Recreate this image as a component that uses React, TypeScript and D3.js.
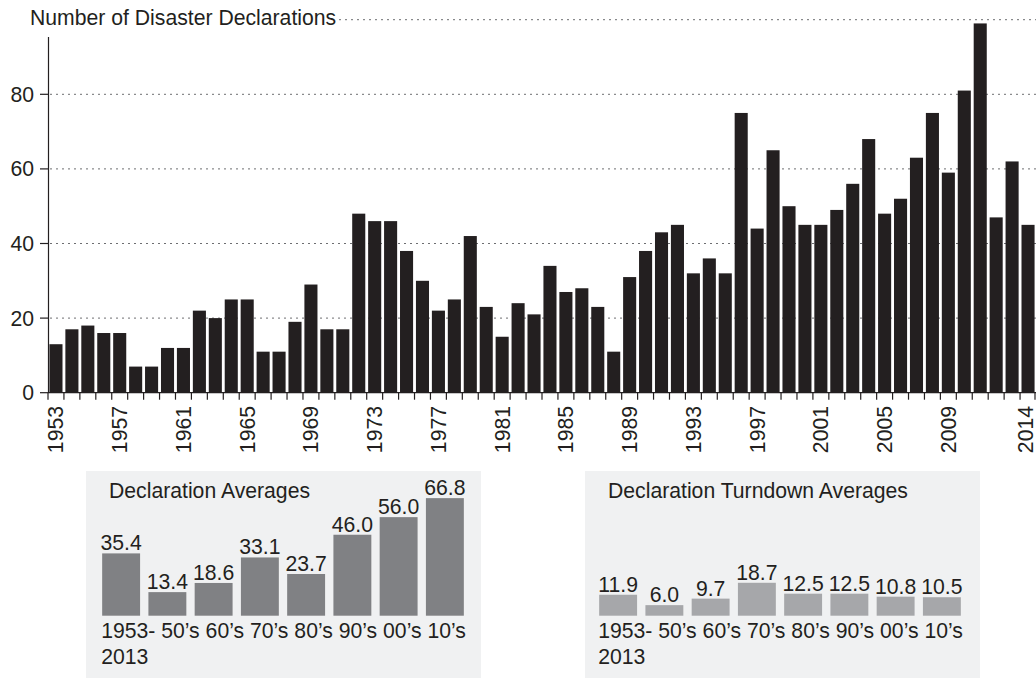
import React from "react";
import * as d3 from "d3";

const years = [
  1953, 1954, 1955, 1956, 1957, 1958, 1959, 1960, 1961, 1962, 1963, 1964, 1965, 1966, 1967, 1968, 1969,
  1970, 1971, 1972, 1973, 1974, 1975, 1976, 1977, 1978, 1979, 1980, 1981, 1982, 1983, 1984, 1985, 1986,
  1987, 1988, 1989, 1990, 1991, 1992, 1993, 1994, 1995, 1996, 1997, 1998, 1999, 2000, 2001, 2002, 2003,
  2004, 2005, 2006, 2007, 2008, 2009, 2010, 2011, 2012, 2013, 2014,
];
const declarations = [
  13, 17, 18, 16, 16, 7, 7, 12, 12, 22, 20, 25, 25, 11, 11, 19, 29,
  17, 17, 48, 46, 46, 38, 30, 22, 25, 42, 23, 15, 24, 21, 34, 27, 28,
  23, 11, 31, 38, 43, 45, 32, 36, 32, 75, 44, 65, 50, 45, 45, 49, 56,
  68, 48, 52, 63, 75, 59, 81, 99, 47, 62, 45,
];
const yearLabels = [1953, 1957, 1961, 1965, 1969, 1973, 1977, 1981, 1985, 1989, 1993, 1997, 2001, 2005, 2009, 2014];
const yTicks = [0, 20, 40, 60, 80];
const gridValues = [20, 40, 60, 80];

const periods = ["1953-", "50\u2019s", "60\u2019s", "70\u2019s", "80\u2019s", "90\u2019s", "00\u2019s", "10\u2019s"];
const declarationAverages = [35.4, 13.4, 18.6, 33.1, 23.7, 46.0, 56.0, 66.8];
const turndownAverages = [11.9, 6.0, 9.7, 18.7, 12.5, 12.5, 10.8, 10.5];

const FONT = "'Liberation Sans', Arial, Helvetica, sans-serif";
const INK = "#231f20";
const FS = 21.2;

function Panel({ x0, x1, title, values, color, bandStart, bandEnd }) {
  const base = 615.7;
  const y = d3.scaleLinear().domain([0, 70]).range([base, base - 123.2]);
  const xb = d3.scaleBand().domain(periods).range([bandStart, bandEnd]).paddingInner(0.18).paddingOuter(0.09);
  return (
    <g>
      <rect x={x0} y={471} width={x1 - x0} height={207} fill="#f0f1f2" />
      <text x={x0 + 23} y={497.5} fontSize={FS} fill={INK}>{title}</text>
      {periods.map((p, i) => (
        <rect key={p} x={xb(p)} y={y(values[i])} width={xb.bandwidth()} height={base - y(values[i])} fill={color} />
      ))}
      {periods.map((p, i) => (
        <text key={"v" + p} x={xb(p) + xb.bandwidth() / 2} y={y(values[i]) - 3} textAnchor="middle" fontSize={FS} fill={INK}>
          {values[i].toFixed(1)}
        </text>
      ))}
      <text x={xb(periods[0]) - 1} y={637.5} fontSize={FS} fill={INK}>{periods.join(" ")}</text>
      <text x={xb(periods[0]) - 1} y={663.5} fontSize={FS} fill={INK}>2013</text>
    </g>
  );
}

export default function App() {
  const W = 1036, H = 678;
  const x = d3.scaleBand().domain(years.map(String)).range([48, 1036]).paddingInner(0.18).paddingOuter(0.09);
  const y = d3.scaleLinear().domain([0, 100]).range([392.7, 19.7]);
  const step = x.step();
  const bw = x.bandwidth();
  const off = (step - bw) / 2;
  return (
    <svg width={W} height={H} style={{ position: "absolute", left: 0, top: 0 }} fontFamily={FONT}>
      <rect width={W} height={H} fill="#fff" />
      {gridValues.map((v) => (
        <line key={v} x1={50} x2={1036} y1={y(v)} y2={y(v)} stroke="#6d6e71" strokeWidth={1} strokeDasharray="2,4" />
      ))}
      <line x1={339} x2={1036} y1={y(100)} y2={y(100)} stroke="#6d6e71" strokeWidth={1} strokeDasharray="2,4" />
      <text x={30} y={25} fontSize={FS} fill={INK}>Number of Disaster Declarations</text>
      {years.map((yr, i) => (
        <rect key={yr} x={x(String(yr))} y={y(declarations[i])} width={bw} height={y(0) - y(declarations[i])} fill={INK} />
      ))}
      <line x1={48.5} x2={48.5} y1={37} y2={y(0)} stroke={INK} strokeWidth={1.2} />
      <line x1={48} x2={1036} y1={y(0)} y2={y(0)} stroke={INK} strokeWidth={1.2} />
      {yTicks.map((t) => (
        <g key={t}>
          <line x1={40} x2={48} y1={y(t)} y2={y(t)} stroke={INK} strokeWidth={1.2} />
          <text x={34} y={y(t)} dy="0.35em" textAnchor="end" fontSize={FS} fill={INK}>{t}</text>
        </g>
      ))}
      {years.map((yr) => (
        <line key={"t" + yr} x1={x(String(yr)) - off} x2={x(String(yr)) - off} y1={y(0)} y2={y(0) + 7} stroke={INK} strokeWidth={1.2} />
      ))}
      <line x1={1035} x2={1035} y1={y(0)} y2={y(0) + 7} stroke={INK} strokeWidth={1.2} />
      {yearLabels.map((yr) => {
        const cx = Math.min(x(String(yr)) + bw / 2, 1026);
        return (
          <text key={"l" + yr} transform={`translate(${cx},406) rotate(-90)`} dy="0.35em" textAnchor="end" fontSize={FS} fill={INK}>
            {yr}
          </text>
        );
      })}
      <Panel x0={86} x1={481} title="Declaration Averages" values={declarationAverages} color="#808184" bandStart={98} bandEnd={468} />
      <Panel x0={585} x1={980} title="Declaration Turndown Averages" values={turndownAverages} color="#a6a7aa" bandStart={595} bandEnd={965} />
    </svg>
  );
}
